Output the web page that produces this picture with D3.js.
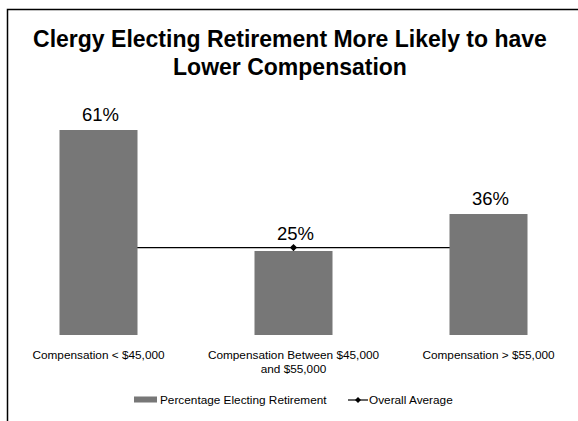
<!DOCTYPE html>
<html><head><meta charset="utf-8">
<script src="https://cdn.jsdelivr.net/npm/d3@7"></script>
<style>body{margin:0;background:#fff}svg{display:block}text{font-family:"Liberation Sans",Arial,Helvetica,sans-serif}</style>
</head><body>
<script>
const categories = [["Compensation < $45,000"], ["Compensation Between $45,000", "and $55,000"], ["Compensation > $55,000"]];
const values = [0.61, 0.25, 0.36];
const averageValues = [0.26, 0.26, 0.26];
const valueLabels = ["61%", "25%", "36%"];
const titleLines = ["Clergy Electing Retirement More Likely to have", "Lower Compensation"];
const legendLabels = ["Percentage Electing Retirement", "Overall Average"];

const W = 578, H = 421;
const svg = d3.select("body").append("svg").attr("width", W).attr("height", H);
svg.append("rect").attr("width", W).attr("height", H).attr("fill", "#fff");
svg.append("path").attr("d", `M7.5,${H} V9.5 H${W}`).attr("fill", "none").attr("stroke", "#000").attr("stroke-width", 1.5);

svg.selectAll("text.title").data(titleLines).join("text").attr("class", "title")
  .attr("x", 290).attr("y", (d, i) => 47 + i * 28).attr("text-anchor", "middle")
  .attr("font-size", 23).attr("font-weight", "bold").attr("fill", "#000").text(d => d);

const x = d3.scaleBand().domain(d3.range(categories.length)).range([1, 586]).paddingInner(0.6).paddingOuter(0.3);
const y = d3.scaleLinear().domain([0, 0.61]).range([335, 130]);
const xc = i => x(i) + x.bandwidth() / 2;

const diamondPath = s => `M0,${-s}L${s},0L0,${s}L${-s},0Z`;

// average line and markers (behind bars)
svg.append("path").datum(averageValues)
  .attr("d", d3.line().x((d, i) => xc(i)).y(d => y(d)))
  .attr("fill", "none").attr("stroke", "#000").attr("stroke-width", 1.2);
svg.selectAll("path.mk").data(averageValues).join("path").attr("class", "mk")
  .attr("transform", (d, i) => `translate(${xc(i)},${y(d)})`).attr("d", diamondPath(3.6)).attr("fill", "#000");

svg.selectAll("rect.bar").data(values).join("rect").attr("class", "bar")
  .attr("x", (d, i) => x(i)).attr("width", x.bandwidth())
  .attr("y", d => y(d)).attr("height", d => y(0) - y(d)).attr("fill", "#777777");

svg.selectAll("text.val").data(values).join("text").attr("class", "val")
  .attr("x", (d, i) => xc(i) + 2).attr("y", (d, i) => y(d) - (i === 1 ? 11 : 9)).attr("text-anchor", "middle")
  .attr("font-size", 18.5).attr("fill", "#000").text((d, i) => valueLabels[i]);

const cat = svg.selectAll("text.cat").data(categories).join("text").attr("class", "cat")
  .attr("x", (d, i) => xc(i)).attr("y", 359).attr("text-anchor", "middle").attr("font-size", 11.8).attr("fill", "#000");
cat.selectAll("tspan").data(d => d).join("tspan").attr("x", function () { return d3.select(this.parentNode).attr("x"); })
  .attr("dy", (d, i) => i === 0 ? 0 : 14).text(d => d);

// legend
const ly = 400;
svg.append("rect").attr("x", 134).attr("y", ly - 3.5).attr("width", 23).attr("height", 6).attr("fill", "#777777");
svg.append("text").attr("x", 160).attr("y", ly + 4).attr("font-size", 11.8).text(legendLabels[0]);
svg.append("line").attr("x1", 348).attr("x2", 368).attr("y1", ly).attr("y2", ly).attr("stroke", "#000").attr("stroke-width", 1.2);
svg.append("path").attr("transform", `translate(358,${ly})`).attr("d", diamondPath(3)).attr("fill", "#000");
svg.append("text").attr("x", 369).attr("y", ly + 4).attr("font-size", 11.8).text(legendLabels[1]);
</script>
</body></html>
